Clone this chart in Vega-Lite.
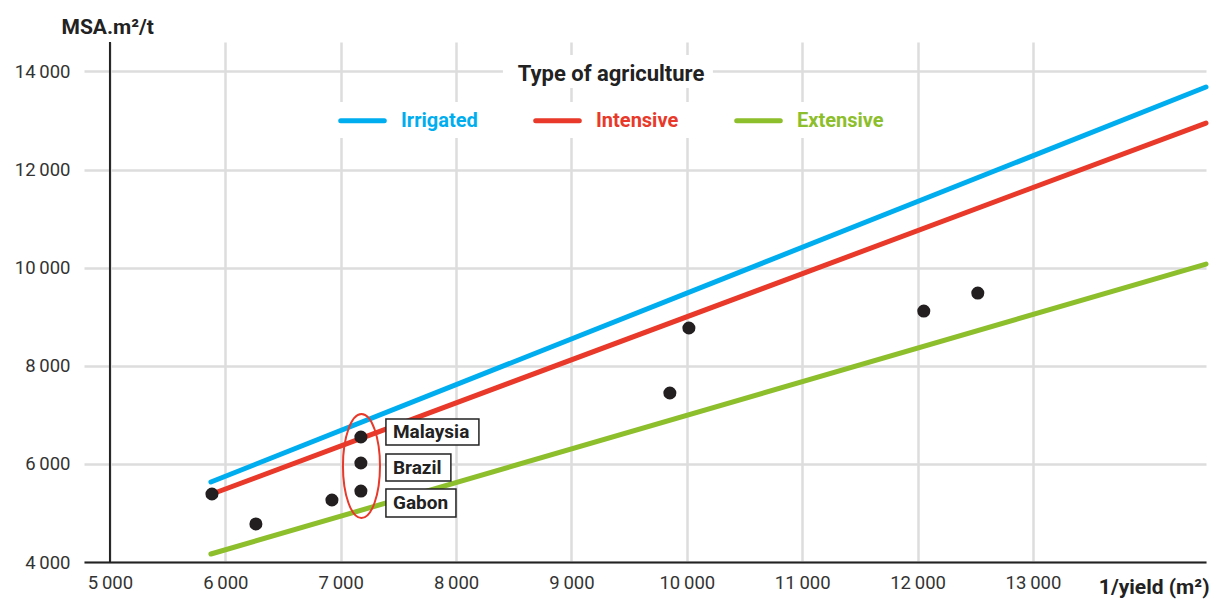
{
  "$schema": "https://vega.github.io/schema/vega-lite/v6.json",
  "width": 1122,
  "height": 520,
  "autosize": {"type": "none"},
  "padding": {"left": 84, "top": 42, "right": 13, "bottom": 37},
  "background": "white",
  "config": {
    "font": "Roboto",
    "view": {"stroke": null}
  },
  "datasets": {
    "lines": [
      {"series": "Irrigated", "x": 5875, "y": 5631},
      {"series": "Irrigated", "x": 14500, "y": 13682},
      {"series": "Intensive", "x": 5884, "y": 5386},
      {"series": "Intensive", "x": 14500, "y": 12948},
      {"series": "Extensive", "x": 5875, "y": 4163},
      {"series": "Extensive", "x": 14500, "y": 10074}
    ],
    "points": [
      {"country": "", "x": 5884, "y": 5386},
      {"country": "", "x": 6265, "y": 4775},
      {"country": "", "x": 6924, "y": 5264},
      {"country": "Malaysia", "x": 7175, "y": 6548},
      {"country": "Brazil", "x": 7175, "y": 6018},
      {"country": "Gabon", "x": 7175, "y": 5447},
      {"country": "", "x": 9853, "y": 7445},
      {"country": "", "x": 10018, "y": 8770},
      {"country": "", "x": 12054, "y": 9116},
      {"country": "", "x": 12522, "y": 9483}
    ],
    "labels": [
      {"label": "Malaysia", "x": 7392, "x2": 8198, "y": 6385, "y2": 6915, "ly": 6650},
      {"label": "Brazil", "x": 7392, "x2": 7955, "y": 5651, "y2": 6201, "ly": 5926},
      {"label": "Gabon", "x": 7392, "x2": 7999, "y": 4917, "y2": 5488, "ly": 5202}
    ],
    "legendback": [
      {"part": "title", "x": 8406, "x2": 10226, "y": 13662, "y2": 14334},
      {"part": "entries", "x": 6907, "x2": 11777, "y": 12643, "y2": 13376}
    ],
    "ellipse": [{"x": 7180, "y": 5957}],
    "yaxis": [{"x": 5000, "y": 4000, "y2": 14600}]
  },
  "encoding": {
    "x": {
      "field": "x", "type": "quantitative",
      "scale": {"domain": [4775, 14500], "nice": false, "zero": false},
      "axis": {
        "values": [5000, 6000, 7000, 8000, 9000, 10000, 11000, 12000, 13000],
        "labelExpr": "replace(format(datum.value, ','), ',', '\u2009')",
        "domainColor": "#222222", "domainWidth": 2,
        "ticks": false,
        "grid": true, "gridColor": "#dddddd", "gridWidth": 2.5,
        "labelFont": "Roboto", "labelFontSize": 18.5, "labelColor": "#333333", "labelPadding": 11,
        "title": "1/yield (m²)",
        "titleFont": "Roboto", "titleFontSize": 21, "titleFontWeight": "bold", "titleColor": "#222222",
        "titleAlign": "right", "titleBaseline": "alphabetic",
        "titleX": 1125, "titleY": 31
      }
    },
    "y": {
      "field": "y", "type": "quantitative",
      "scale": {"domain": [4000, 14600], "nice": false, "zero": false},
      "axis": {
        "values": [4000, 6000, 8000, 10000, 12000, 14000],
        "labelExpr": "replace(format(datum.value, ','), ',', '\u2009')",
        "domain": false, "ticks": false,
        "grid": true, "gridColor": "#dddddd", "gridWidth": 2.5,
        "labelFont": "Roboto", "labelFontSize": 18.5, "labelColor": "#333333", "labelPadding": 14,
        "title": "MSA.m²/t",
        "titleFont": "Roboto", "titleFontSize": 21, "titleFontWeight": "bold", "titleColor": "#222222",
        "titleAngle": 0, "titleAlign": "left", "titleBaseline": "alphabetic",
        "titleX": -23, "titleY": -9
      }
    }
  },
  "layer": [
    {
      "data": {"name": "legendback"},
      "mark": {"type": "rect", "fill": "white", "stroke": null},
      "encoding": {
        "x2": {"field": "x2"},
        "y2": {"field": "y2"}
      }
    },
    {
      "data": {"name": "yaxis"},
      "mark": {"type": "rule", "color": "#222222", "strokeWidth": 2},
      "encoding": {
        "y2": {"field": "y2"}
      }
    },
    {
      "data": {"name": "lines"},
      "mark": {"type": "line", "strokeWidth": 5, "strokeCap": "round"},
      "encoding": {
        "color": {
          "field": "series", "type": "nominal",
          "scale": {
            "domain": ["Irrigated", "Intensive", "Extensive"],
            "range": ["#00aeef", "#e8392a", "#8dbe2b"]
          },
          "legend": {
            "title": "Type of agriculture",
            "orient": "none",
            "legendX": 250,
            "legendY": 18,
            "direction": "horizontal",
            "symbolType": "stroke",
            "symbolStrokeWidth": 5,
            "symbolSize": 1900,
            "labelFont": "Roboto",
            "labelFontSize": 20,
            "labelFontWeight": "bold",
            "labelOffset": 14,
            "titleFont": "Roboto",
            "titleFontSize": 22,
            "titleFontWeight": "bold",
            "titleColor": "#222222",
            "titleAnchor": "middle",
            "titleLimit": 0,
            "titlePadding": 10,
            "columnPadding": 47,
            "padding": 4,
            "encode": {
              "labels": {"update": {"fill": {"scale": "color", "field": "value"}}},
              "symbols": {"update": {"strokeCap": {"value": "round"}}}
            }
          }
        },
        "detail": {"field": "series"}
      }
    },
    {
      "data": {"name": "points"},
      "mark": {"type": "point", "shape": "circle", "filled": true, "size": 170, "color": "#231f20", "opacity": 1}
    },
    {
      "data": {"name": "ellipse"},
      "mark": {
        "type": "point",
        "shape": "M -0.356 0 A 0.356 1 0 1 0 0.356 0 A 0.356 1 0 1 0 -0.356 0 Z",
        "size": 10816,
        "filled": false,
        "stroke": "#e8392a",
        "strokeWidth": 2,
        "opacity": 1
      }
    },
    {
      "data": {"name": "labels"},
      "mark": {"type": "rect", "fill": "white", "stroke": "#222222", "strokeWidth": 1.5},
      "encoding": {
        "x2": {"field": "x2"},
        "y2": {"field": "y2"}
      }
    },
    {
      "data": {"name": "labels"},
      "mark": {"type": "text", "align": "left", "baseline": "middle", "dx": 7, "font": "Roboto", "fontSize": 19, "fontWeight": "bold", "color": "#222222"},
      "encoding": {
        "y": {"field": "ly", "type": "quantitative"},
        "text": {"field": "label"}
      }
    }
  ]
}
